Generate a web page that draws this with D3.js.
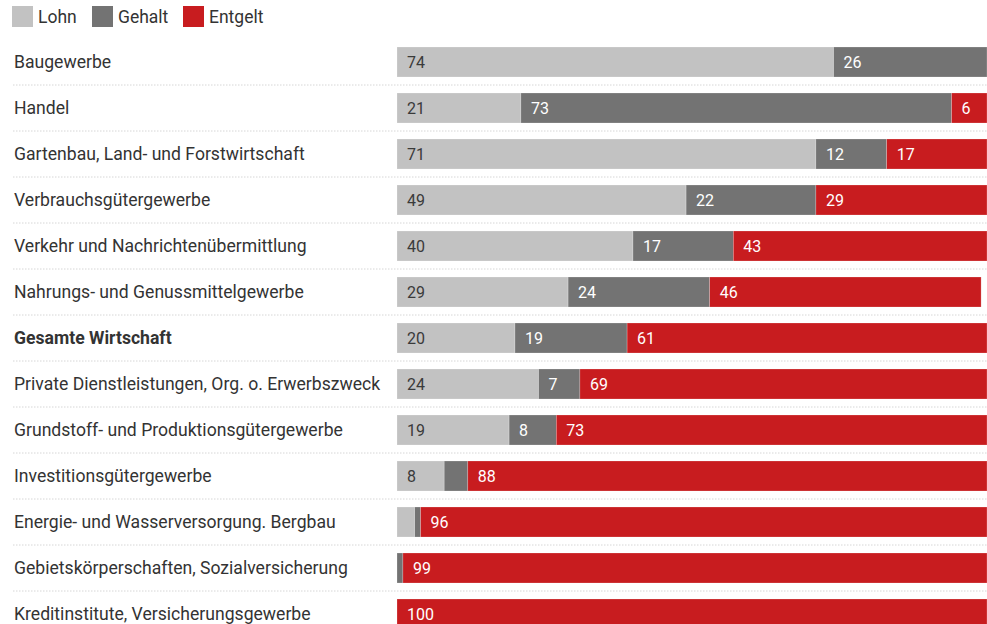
<!DOCTYPE html>
<html lang="de">
  <head>
    <meta charset="utf-8">
    <title>Lohn Gehalt Entgelt</title>
    <script src="https://d3js.org/d3.v7.min.js"></script>
    <style>
      body { margin: 0; background: #fff; }
      text { font-family: Roboto, "Noto Sans", sans-serif; }
    </style>
  </head>
  <body>
    <script type="text/javascript">

      var w = 987;
      var h = 624;

      var categories = ["Baugewerbe", "Handel", "Gartenbau, Land- und Forstwirtschaft",
                        "Verbrauchsgütergewerbe", "Verkehr und Nachrichtenübermittlung",
                        "Nahrungs- und Genussmittelgewerbe", "Gesamte Wirtschaft",
                        "Private Dienstleistungen, Org. o. Erwerbszweck",
                        "Grundstoff- und Produktionsgütergewerbe", "Investitionsgütergewerbe",
                        "Energie- und Wasserversorgung. Bergbau",
                        "Gebietskörperschaften, Sozialversicherung",
                        "Kreditinstitute, Versicherungsgewerbe"];
      var lohn    = [74, 21, 71, 49, 40, 29, 20, 24, 19,  8,  3,  0,   0];
      var gehalt  = [26, 73, 12, 22, 17, 24, 19,  7,  8,  4,  1,  1,   0];
      var entgelt = [ 0,  6, 17, 29, 43, 46, 61, 69, 73, 88, 96, 99, 100];

      var seriesNames = ["Lohn", "Gehalt", "Entgelt"];
      var colors = ["#c2c2c2", "#737373", "#c81c1f"];
      var textColors = ["#3a3a3a", "#ffffff", "#ffffff"];

      var rows = categories.map(function(c, i) {
        return {cat: c, Lohn: lohn[i], Gehalt: gehalt[i], Entgelt: entgelt[i]};
      });

      var svg = d3.select("body")
          .append("svg")
          .attr("width", w)
          .attr("height", h);

      var xScale = d3.scaleLinear()
          .domain([0, 100])
          .range([397, 987]);

      var yScale = d3.scaleBand()
          .domain(categories)
          .range([39, 39 + 46 * categories.length])
          .paddingInner(16 / 46)
          .paddingOuter(8 / 46);

// legend
      var legendX = [12, 92, 183];
      var legend = svg.append("g").selectAll("g")
          .data(seriesNames)
          .enter().append("g")
          .attr("transform", function(d, i) { return `translate(${legendX[i]}, 6)` });

      legend.append("rect")
          .attr("width", 21)
          .attr("height", 21)
          .attr("fill", function(d, i) { return colors[i] });

      legend.append("text")
          .attr("x", 26)
          .attr("y", 17)
          .attr("font-size", 17.5)
          .attr("fill", "#333")
          .text(function(d) { return d });

// dotted separators
      svg.append("g").selectAll("line")
          .data(categories.slice(0, -1))
          .enter().append("line")
          .attr("x1", 13)
          .attr("x2", w)
          .attr("y1", function(d) { return yScale(d) + yScale.bandwidth() + 8 })
          .attr("y2", function(d) { return yScale(d) + yScale.bandwidth() + 8 })
          .style("stroke", "#d6d6d6")
          .style("stroke-width", 1)
          .style("stroke-dasharray", "1.5,1.5");

// category labels
      svg.append("g").selectAll("text")
          .data(categories)
          .enter().append("text")
          .attr("x", 14)
          .attr("y", function(d) { return yScale(d) + yScale.bandwidth() / 2 + 6 })
          .attr("font-size", 17.6)
          .attr("font-weight", function(d) { return d === "Gesamte Wirtschaft" ? "bold" : "normal" })
          .attr("fill", "#333")
          .text(function(d) { return d });

// stacked bars
      var stack = d3.stack().keys(seriesNames);
      var layers = stack(rows);

      var groups = svg.append("g").selectAll("g")
          .data(layers)
          .enter().append("g")
          .attr("fill", function(d, i) { return colors[i] });

      groups.selectAll("rect")
          .data(function(d) { return d })
          .enter().append("rect")
          .attr("x", function(d) { return xScale(d[0]) })
          .attr("y", function(d) { return yScale(d.data.cat) })
          .attr("width", function(d) { return xScale(d[1]) - xScale(d[0]) })
          .attr("height", yScale.bandwidth())
          .style("stroke", "#fff")
          .style("stroke-opacity", 0.35)
          .style("stroke-width", 0.6);

      groups.each(function(layer, li) {
        d3.select(this).selectAll("text")
            .data(layer.filter(function(d) { return d[1] - d[0] >= 5 }))
            .enter().append("text")
            .attr("x", function(d) { return xScale(d[0]) + 10 })
            .attr("y", function(d) { return yScale(d.data.cat) + yScale.bandwidth() / 2 + 5.5 })
            .attr("font-size", 16)
            .attr("fill", textColors[li])
            .text(function(d) { return d[1] - d[0] });
      });

    </script>
  </body>
</html>
